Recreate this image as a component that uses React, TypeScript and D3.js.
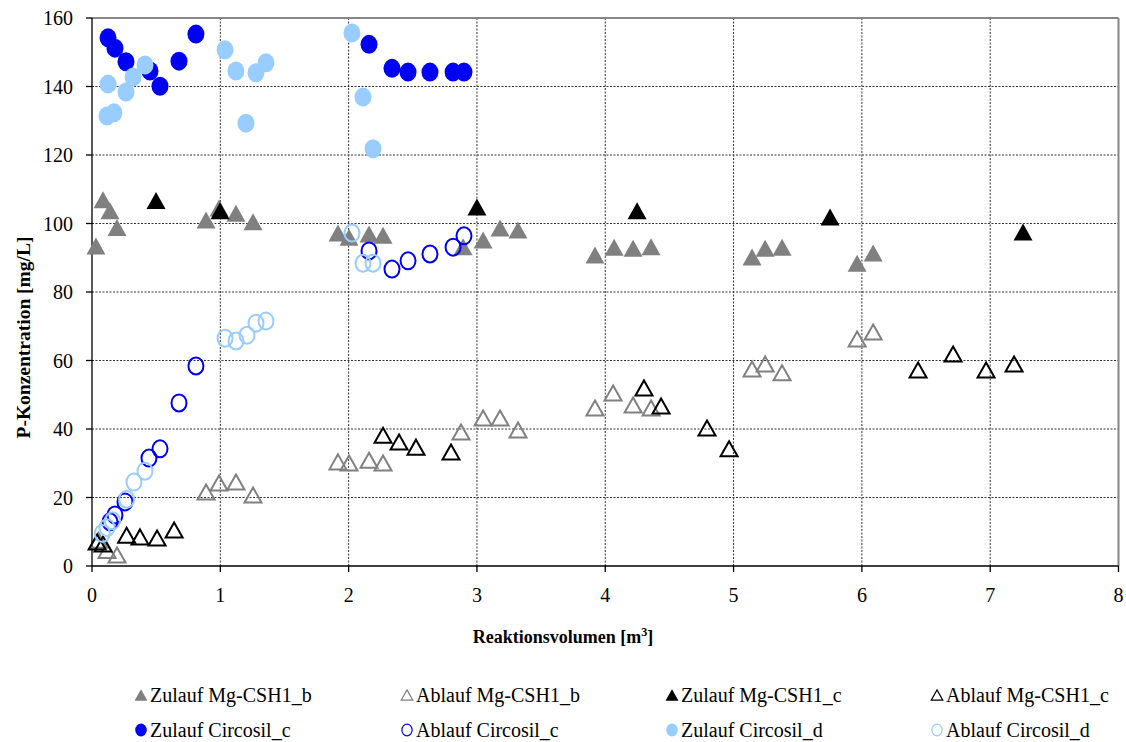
import React from "react";
import * as d3 from "d3";

const xTicks = [0, 1, 2, 3, 4, 5, 6, 7, 8];
const yTicks = [0, 20, 40, 60, 80, 100, 120, 140, 160];

const zulaufMgB: [number, number][] = [
  [0.031, 93.4], [0.086, 106.9], [0.14, 103.7], [0.195, 98.8], [0.889, 101], [0.99, 104.5],
  [1.122, 103], [1.255, 100.5], [1.917, 97.2], [2.003, 96], [2.159, 96.9], [2.268, 96.6],
  [2.892, 93.2], [3.048, 95.2], [3.18, 98.7], [3.32, 98.1], [3.92, 90.8], [4.069, 93.1],
  [4.217, 92.8], [4.357, 93.2], [5.144, 90.2], [5.246, 92.8], [5.378, 93.1], [5.963, 88.4], [6.088, 91.4],
];
const ablaufMgB: [number, number][] = [
  [0.05, 7.5], [0.117, 4.5], [0.195, 3.2], [0.889, 21.6], [0.99, 24.2], [1.122, 24.5], [1.255, 20.7],
  [1.917, 30.4], [2.003, 30.1], [2.159, 30.9], [2.268, 30.1], [2.876, 39.1], [3.048, 43.2], [3.18, 43.2],
  [3.32, 39.7], [3.92, 46.1], [4.061, 50.5], [4.217, 47], [4.357, 46.1], [5.144, 57.5], [5.246, 59],
  [5.378, 56.4], [5.963, 66.3], [6.088, 68.3],
];
const zulaufMgC: [number, number][] = [
  [0.499, 106.7], [0.998, 103.7], [3.0, 104.8], [4.248, 103.7], [5.752, 101.9], [7.256, 97.5],
];
const ablaufMgC: [number, number][] = [
  [0.04, 7.0], [0.086, 6.4], [0.27, 9.0], [0.374, 8.5], [0.507, 8.2], [0.64, 10.5], [2.268, 38.2],
  [2.393, 36.2], [2.525, 34.7], [2.798, 33.3], [4.302, 52], [4.435, 46.7], [4.793, 40.3], [4.965, 34.2],
  [6.438, 57.2], [6.711, 61.9], [6.968, 57.2], [7.186, 59],
];
const zulaufCircC: [number, number][] = [
  [0.125, 154.2], [0.179, 151.2], [0.265, 147.2], [0.452, 144.5], [0.53, 140.1], [0.678, 147.4],
  [0.81, 155.3], [2.159, 152.3], [2.338, 145.3], [2.463, 144.2], [2.634, 144.2], [2.814, 144.2], [2.899, 144.2],
];
const ablaufCircC: [number, number][] = [
  [0.14, 12.9], [0.179, 14.9], [0.257, 18.7], [0.444, 31.5], [0.53, 34.2], [0.678, 47.6], [0.81, 58.4],
  [2.159, 92.0], [2.338, 86.7], [2.463, 89.1], [2.634, 91.1], [2.814, 93.1], [2.899, 96.4],
];
const zulaufCircD: [number, number][] = [
  [0.117, 131.4], [0.171, 132.3], [0.125, 140.7], [0.265, 138.4], [0.32, 142.8], [0.413, 146.3],
  [1.037, 150.7], [1.122, 144.5], [1.2, 129.3], [1.278, 144], [1.356, 146.9], [2.026, 155.6],
  [2.112, 136.9], [2.19, 121.8],
];
const ablaufCircD: [number, number][] = [
  [0.08, 9.5], [0.117, 11.2], [0.16, 13.2], [0.27, 19.5], [0.327, 24.5], [0.413, 27.7], [1.037, 66.5],
  [1.122, 65.7], [1.208, 67.4], [1.278, 70.9], [1.356, 71.5], [2.026, 97.2], [2.112, 88.4], [2.19, 88.4],
];

type Series = { name: string; data: [number, number][]; shape: "tri" | "circ"; filled: boolean; color: string };

const seriesList: Series[] = [
  { name: "Zulauf Mg-CSH1_b", data: zulaufMgB, shape: "tri", filled: true, color: "#808080" },
  { name: "Ablauf Mg-CSH1_b", data: ablaufMgB, shape: "tri", filled: false, color: "#808080" },
  { name: "Zulauf Mg-CSH1_c", data: zulaufMgC, shape: "tri", filled: true, color: "#000000" },
  { name: "Ablauf Mg-CSH1_c", data: ablaufMgC, shape: "tri", filled: false, color: "#000000" },
  { name: "Zulauf Circosil_c", data: zulaufCircC, shape: "circ", filled: true, color: "#0000F5" },
  { name: "Ablauf Circosil_c", data: ablaufCircC, shape: "circ", filled: false, color: "#0000F5" },
  { name: "Zulauf Circosil_d", data: zulaufCircD, shape: "circ", filled: true, color: "#99CCFF" },
  { name: "Ablauf Circosil_d", data: ablaufCircD, shape: "circ", filled: false, color: "#99CCFF" },
];

const W = 1126;
const H = 742;
const L = 92;
const R = 1118.5;
const T = 18;
const B = 566;
const FONT = "'Liberation Serif', 'DejaVu Serif', serif";

function triPath(cx: number, cy: number, w: number, h: number) {
  const p = d3.path();
  p.moveTo(cx, cy - h / 2);
  p.lineTo(cx + w / 2, cy + h / 2);
  p.lineTo(cx - w / 2, cy + h / 2);
  p.closePath();
  return p.toString();
}

function Marker({ s, cx, cy, scale, sw }: { s: Series; cx: number; cy: number; scale: number; sw: number }) {
  if (s.shape === "tri") {
    const w = (s.filled ? 19 : 17) * scale;
    const h = (s.filled ? 17 : 15) * scale;
    return (
      <path
        d={triPath(cx, cy, w, h)}
        fill={s.filled ? s.color : "none"}
        stroke={s.color}
        strokeWidth={s.filled ? 0 : sw}
        strokeLinejoin="miter"
      />
    );
  }
  const rx = (s.filled ? 8.5 : 7.5) * scale;
  const ry = (s.filled ? 9.5 : 8.5) * scale;
  return (
    <ellipse
      cx={cx}
      cy={cy}
      rx={rx}
      ry={ry}
      fill={s.filled ? s.color : "none"}
      stroke={s.color}
      strokeWidth={s.filled ? 0 : sw}
    />
  );
}

export default function App() {
  const x = d3.scaleLinear().domain([0, 8]).range([L, R]);
  const y = d3.scaleLinear().domain([0, 160]).range([B, T]);

  const legendCols = [141, 407, 672, 937];
  const legendRows = [695, 730];

  return (
    <svg
      width={W}
      height={H}
      style={{ position: "absolute", left: 0, top: 0, background: "#fff" }}
      fontFamily={FONT}
    >
      <rect x={0} y={0} width={W} height={H} fill="#fff" />
      {/* grid */}
      {yTicks.filter((t) => t > 0 && t < 160).map((t) => (
        <line key={"gy" + t} x1={L} x2={R} y1={y(t)} y2={y(t)} stroke="#333" strokeWidth={1} strokeDasharray="2 1.5" />
      ))}
      {xTicks.filter((t) => t > 0 && t < 8).map((t) => (
        <line key={"gx" + t} x1={x(t)} x2={x(t)} y1={T} y2={B} stroke="#333" strokeWidth={1} strokeDasharray="2 1.5" />
      ))}
      {/* border top/right */}
      <line x1={L} x2={R} y1={T} y2={T} stroke="#868686" strokeWidth={2} />
      <line x1={R} x2={R} y1={T} y2={B} stroke="#868686" strokeWidth={2} />
      {/* axes */}
      <line x1={L} x2={L} y1={T} y2={B} stroke="#000" strokeWidth={1.3} />
      <line x1={L} x2={R} y1={B} y2={B} stroke="#000" strokeWidth={1.3} />
      {yTicks.map((t) => (
        <g key={"yt" + t}>
          <line x1={L - 6} x2={L} y1={y(t)} y2={y(t)} stroke="#000" strokeWidth={1.3} />
          <text x={L - 19} y={y(t)} dy="0.35em" textAnchor="end" fontSize={20} fill="#000">
            {t}
          </text>
        </g>
      ))}
      {xTicks.map((t) => (
        <g key={"xt" + t}>
          <line x1={x(t)} x2={x(t)} y1={B} y2={B + 6} stroke="#000" strokeWidth={1.3} />
          <text x={x(t)} y={602} textAnchor="middle" fontSize={20} fill="#000">
            {t}
          </text>
        </g>
      ))}
      {/* axis titles */}
      <text x={563} y={643} textAnchor="middle" fontSize={18} fontWeight="bold" fill="#000">
        Reaktionsvolumen [m<tspan dy={-7} fontSize={12}>3</tspan><tspan dy={7}>]</tspan>
      </text>
      <text
        transform={`translate(30, 337.5) rotate(-90)`}
        textAnchor="middle"
        fontSize={19.5}
        fontWeight="bold"
        fill="#000"
      >
        P-Konzentration [mg/L]
      </text>
      {/* data */}
      {seriesList.map((s, si) => (
        <g key={"s" + si}>
          {s.data.map((d, i) => (
            <Marker key={i} s={s} cx={x(d[0])} cy={y(d[1])} scale={1} sw={2} />
          ))}
        </g>
      ))}
      {/* legend */}
      {seriesList.map((s, i) => {
        const cx = legendCols[i % 4];
        const cy = legendRows[Math.floor(i / 4)];
        return (
          <g key={"lg" + i}>
            <Marker s={s} cx={cx} cy={cy} scale={0.68} sw={1.2} />
            <text x={cx + 9} y={cy} dy="0.35em" fontSize={20} fill="#000">
              {s.name}
            </text>
          </g>
        );
      })}
    </svg>
  );
}
